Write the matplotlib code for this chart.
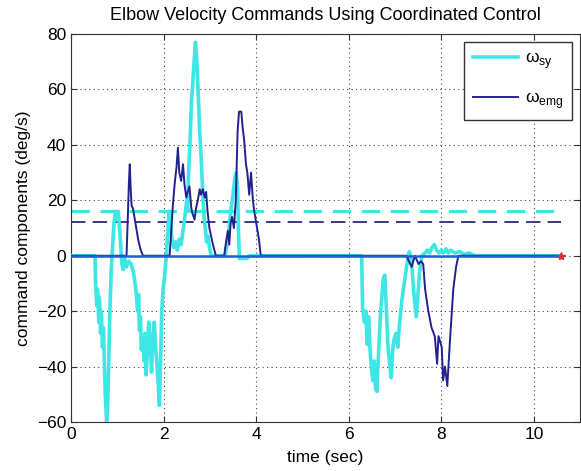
import matplotlib
matplotlib.use("Agg")
import matplotlib.pyplot as plt

plt.rcParams['font.family'] = ['Liberation Sans', 'DejaVu Sans']
plt.rcParams['mathtext.fontset'] = 'custom'
plt.rcParams['mathtext.rm'] = 'Liberation Sans'

# synergy-based command (deg/s)
t_sy = [0.00, 0.52, 0.53, 0.56, 0.57, 0.58, 0.60, 0.61, 0.62, 0.64, 0.65, 0.66,
        0.68, 0.70, 0.72, 0.74, 0.77, 0.79, 0.81, 0.84, 0.87, 0.90, 0.93, 0.96,
        0.99, 1.02, 1.05, 1.08, 1.10, 1.13, 1.16, 1.20, 1.25, 1.30, 1.35, 1.40,
        1.44, 1.46, 1.48, 1.50, 1.52, 1.55, 1.58, 1.60, 1.62, 1.65, 1.68, 1.71,
        1.74, 1.77, 1.80, 1.83, 1.86, 1.89, 1.91, 1.93, 1.96, 1.99, 2.02, 2.06,
        2.09, 2.12, 2.15, 2.18, 2.22, 2.26, 2.30, 2.34, 2.38, 2.42, 2.46, 2.50,
        2.52, 2.54, 2.57, 2.60, 2.63, 2.66, 2.69, 2.72, 2.75, 2.78, 2.81, 2.84,
        2.87, 2.90, 2.93, 2.96, 2.99, 3.03, 3.33, 3.37, 3.41, 3.45, 3.50, 3.54,
        3.57, 3.60, 3.62, 3.64, 3.80, 3.86, 6.28, 6.30, 6.34, 6.37, 6.40, 6.43,
        6.46, 6.49, 6.52, 6.55, 6.58, 6.61, 6.63, 6.66, 6.69, 6.72, 6.75, 6.78,
        6.81, 6.85, 6.89, 6.92, 6.95, 6.98, 7.02, 7.06, 7.10, 7.15, 7.20, 7.25,
        7.29, 7.31, 7.34, 7.37, 7.41, 7.46, 7.49, 7.53, 7.58, 7.65, 7.70, 7.75,
        7.80, 7.85, 7.90, 7.95, 8.00, 8.05, 8.10, 8.15, 8.20, 8.30, 8.40, 8.50,
        8.60, 8.73, 10.58]
w_sy = [0, 0, -10, -18, -12, -14, -24, -15, -17, -28, -20, -22,
        -33, -26, -38, -50, -60, -55, -42, -20, -5, 4, 12, 16,
        13, 16, 10, 2, -3, -5, -1, -4, -2, -3, -6, -12,
        -20, -14, -27, -22, -34, -30, -38, -28, -43, -35, -24, -30,
        -42, -30, -24, -33, -40, -48, -54, -42, -20, -12, -8, 0,
        8, 16, 12, 6, 3, 5, 2, 6, 4, 9, 14, 20,
        16, 30, 40, 55, 62, 70, 77, 70, 58, 45, 36, 25,
        15, 10, 5, 7, 3, 0, 0, 4, 9, 16, 22, 28,
        30, 24, 8, -1, -1, 0, 0, -19, -24, -20, -32, -22,
        -34, -40, -45, -38, -48, -49, -40, -30, -20, -14, -8, -7,
        -18, -33, -40, -44, -34, -30, -28, -33, -24, -16, -10, -4,
        0, 1.5, 0, -5, -14, -22, -15, -6, 0, 1, 2, 1,
        3, 4, 2, 1, 2, 1, 2.5, 1, 2, 1, 1.5, 0.5,
        1, 0, 0]

# EMG-based command (deg/s)
t_emg = [0.00, 1.20, 1.23, 1.25, 1.27, 1.29, 1.31, 1.34, 1.37, 1.41, 1.45, 1.49,
         1.53, 1.56, 2.13, 2.17, 2.20, 2.24, 2.28, 2.31, 2.34, 2.38, 2.42, 2.45,
         2.49, 2.52, 2.56, 2.60, 2.63, 2.67, 2.70, 2.74, 2.78, 2.81, 2.85, 2.89,
         2.92, 2.95, 2.99, 3.06, 3.13, 3.31, 3.35, 3.39, 3.42, 3.45, 3.48, 3.52,
         3.56, 3.60, 3.63, 3.68, 3.71, 3.74, 3.78, 3.81, 3.85, 3.89, 3.93, 3.96,
         4.00, 4.03, 4.06, 4.10, 7.25, 7.30, 7.36, 7.43, 7.51, 7.56, 7.61, 7.65,
         7.72, 7.79, 7.86, 7.91, 7.94, 8.01, 8.04, 8.08, 8.13, 8.19, 8.26, 8.32,
         8.37, 10.58]
w_emg = [0, 0, 15, 26, 33, 24, 18, 17, 14, 10, 6, 3,
         1, 0, 0, 10, 18, 26, 32, 39, 30, 27, 33, 26,
         21, 23, 25, 17, 15, 13, 17, 20, 24, 22, 24, 21,
         23, 16, 10, 4.5, 0, 0, 5, 9, 4, 12, 14, 10,
         20, 45, 52, 52, 46, 42, 33, 30, 22, 30, 20, 16,
         12, 9, 6, 0, 0, -2, -4, 0, -3, -2, -3, -12,
         -20, -26, -29, -39, -29, -33, -45, -40, -47, -30, -12, -4,
         0, 0]

# thresholds for each command
t_end = 10.58
thr_sy = 16
thr_emg = 12

fig = plt.figure(figsize=(5.81, 4.71), dpi=100)
ax = fig.add_axes([0.1222, 0.104, 0.8763, 0.8238])

ax.plot(t_sy, w_sy, color='#3ee6e6', lw=2.6, label=r'ω$_{\mathrm{sy}}$', zorder=3)
ax.plot(t_emg, w_emg, color='#22228e', lw=1.4, label=r'ω$_{\mathrm{emg}}$', zorder=4)
ax.plot([0, t_end], [thr_sy, thr_sy], color='#3ee6e6', lw=2.2, dashes=(6, 3.5), zorder=2)
ax.plot([0, t_end], [thr_emg, thr_emg], color='#2a2a80', lw=1.3, dashes=(8, 4), zorder=2)
ax.plot([0, t_end], [0, 0], color='#1e5fd2', lw=1.8, zorder=5)
ax.plot([t_end], [0], marker='*', color='#e0303a', ms=6, zorder=6)

ax.set_xlim(0, 11)
ax.set_ylim(-60, 80)
ax.set_xticks([0, 2, 4, 6, 8, 10])
ax.set_yticks(range(-60, 81, 20))
ax.grid(True, linestyle=(0, (1, 3)), color='#444444', lw=0.8)
ax.tick_params(direction='in', top=True, right=True, labelsize=12.5, length=4,
               color='#333333')
for s in ax.spines.values():
    s.set_color('#333333')

ax.set_title('Elbow Velocity Commands Using Coordinated Control', fontsize=13, pad=10)
ax.set_xlabel('time (sec)', fontsize=12.5, labelpad=6)
ax.set_ylabel('command components (deg/s)', fontsize=12.5, labelpad=4)

leg = ax.legend(loc='upper right', fontsize=12.5, fancybox=False, framealpha=1,
                edgecolor='#333333', handlelength=2.6, handletextpad=0.4,
                labelspacing=1.1, borderpad=0.5, borderaxespad=0.45)
leg.get_frame().set_linewidth(1.0)

fig.savefig('out.png', dpi=100)
